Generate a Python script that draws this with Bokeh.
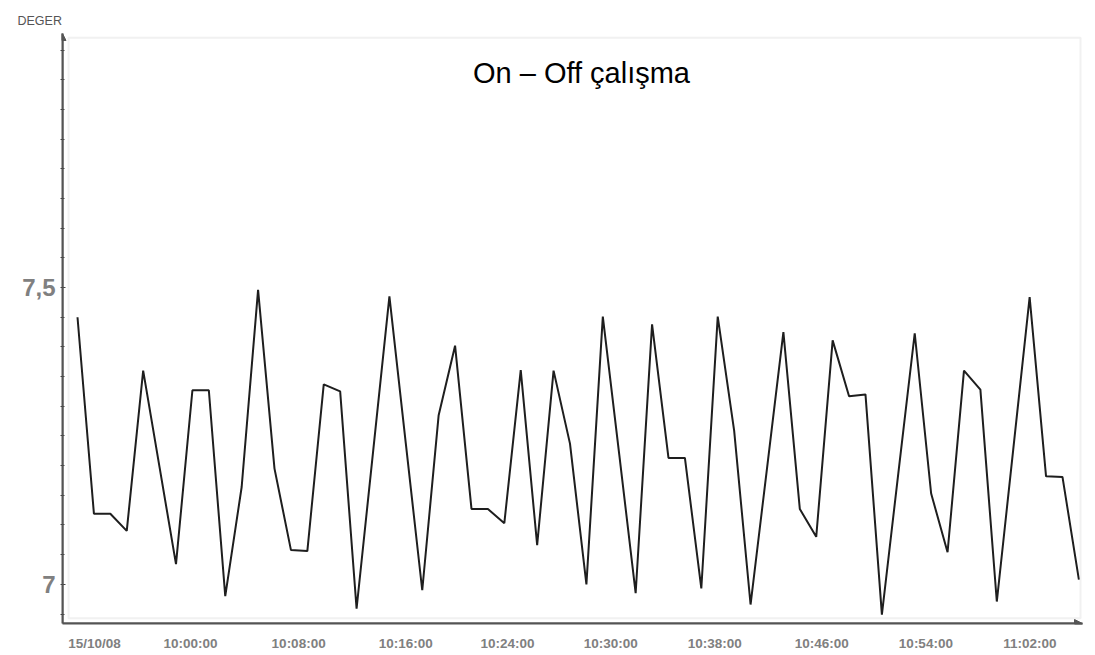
from bokeh.plotting import figure
from bokeh.models import (Range1d, FixedTicker, CustomJSTickFormatter, Label,
                          BoxAnnotation, Arrow, NormalHead)
from bokeh.embed import file_html
from bokeh.resources import INLINE

# ---------------- data ----------------
values = [7.450, 7.119, 7.119, 7.090, 7.360, 7.197, 7.034, 7.327, 7.327, 6.980,
          7.164, 7.496, 7.195, 7.058, 7.056, 7.337, 7.325, 6.959, 7.222, 7.485,
          7.237, 6.990, 7.285, 7.402, 7.127, 7.127, 7.103, 7.361, 7.066, 7.360,
          7.237, 7.000, 7.451, 7.219, 6.985, 7.438, 7.213, 7.213, 6.993, 7.451,
          7.259, 6.966, 7.195, 7.425, 7.127, 7.080, 7.411, 7.317, 7.320, 6.949,
          7.187, 7.423, 7.153, 7.054, 7.360, 7.328, 6.971, 7.227, 7.484, 7.182,
          7.181, 7.008]
samples = list(range(len(values)))

x_tick_labels = ["15/10/08", "10:00:00", "10:08:00", "10:16:00", "10:24:00",
                 "10:30:00", "10:38:00", "10:46:00", "10:54:00", "11:02:00"]
x_tick_samples = [1.04, 6.89, 13.47, 19.99, 26.2, 32.48, 38.82, 45.34, 51.68, 58.02]

y_ticks = [7.0, 7.5]
y_tick_labels = {7.0: "7", 7.5: "7,5"}

title_text = "On \u2013 Off \u00e7al\u0131\u015fma"
y_name = "DEGER"

# ---------------- figure ----------------
x0, x1 = -0.914, 61.22
y0, y1 = 6.934, 7.928

p = figure(width=1095, height=655, output_backend="svg", toolbar_location=None,
           x_range=Range1d(x0, x1), y_range=Range1d(y0, y1),
           min_border_left=62, min_border_right=13, min_border_top=33,
           min_border_bottom=32)
p.background_fill_color = "white"
p.border_fill_color = "white"
p.outline_line_color = None
p.xgrid.visible = False
p.ygrid.visible = False

# y name at the top-left (as title)
p.title.text = y_name
p.title.align = "left"
p.title.offset = -45
p.title.standoff = 11
p.title.text_font = "Liberation Sans"
p.title.text_font_size = "12.5px"
p.title.text_font_style = "normal"
p.title.text_color = "#555555"

# inner light frame
p.add_layout(BoxAnnotation(left=-0.548, right=61.10, bottom=6.943, top=7.921,
                           fill_alpha=0, line_color="#cfcfcf", line_width=2))

p.line(samples, values, line_color="#1e1e1e", line_width=2)

# x axis
xa = p.xaxis[0]
xa.ticker = FixedTicker(ticks=x_tick_samples, minor_ticks=[])
xa.formatter = CustomJSTickFormatter(args=dict(labels=x_tick_labels),
                                     code="return labels[index];")
xa.major_tick_line_color = None
xa.major_tick_out = 0
xa.major_tick_in = 0
xa.minor_tick_line_color = None
xa.axis_line_color = "#555555"
xa.axis_line_width = 2
xa.major_label_standoff = 12
xa.major_label_text_font = "Liberation Sans"
xa.major_label_text_font_style = "bold"
xa.major_label_text_font_size = "13.5px"
xa.major_label_text_color = "#808080"

# y axis
ya = p.yaxis[0]
minor = [round(6.95 + 0.05 * i, 2) for i in range(20)]
ya.ticker = FixedTicker(ticks=y_ticks, minor_ticks=minor)
ya.major_label_overrides = y_tick_labels
ya.major_tick_out = 0
ya.major_tick_in = 3
ya.major_tick_line_color = "#444444"
ya.minor_tick_in = 2
ya.minor_tick_out = 2
ya.minor_tick_line_color = "#444444"
ya.axis_line_color = "#555555"
ya.axis_line_width = 2
ya.major_label_standoff = 5
ya.major_label_text_font = "Liberation Sans"
ya.major_label_text_font_style = "bold"
ya.major_label_text_font_size = "24px"
ya.major_label_text_color = "#808080"

# axis arrows
p.add_layout(Arrow(x_start=x0, y_start=y0, x_end=x1, y_end=y0,
                   line_color="#555555", line_width=2,
                   end=NormalHead(size=8, fill_color="#555555", line_color="#555555")))
p.add_layout(Arrow(x_start=x0, y_start=y0, x_end=x0, y_end=y1,
                   line_color="#555555", line_width=2,
                   end=NormalHead(size=7, fill_color="#555555", line_color="#555555")))

# title inside the plot
p.add_layout(Label(x=30.7, y=7.862, text=title_text, text_align="center",
                   text_baseline="middle", text_font="Liberation Sans",
                   text_font_size="29px", text_color="#000000"))

open("out.html", "w").write(file_html(p, INLINE))
